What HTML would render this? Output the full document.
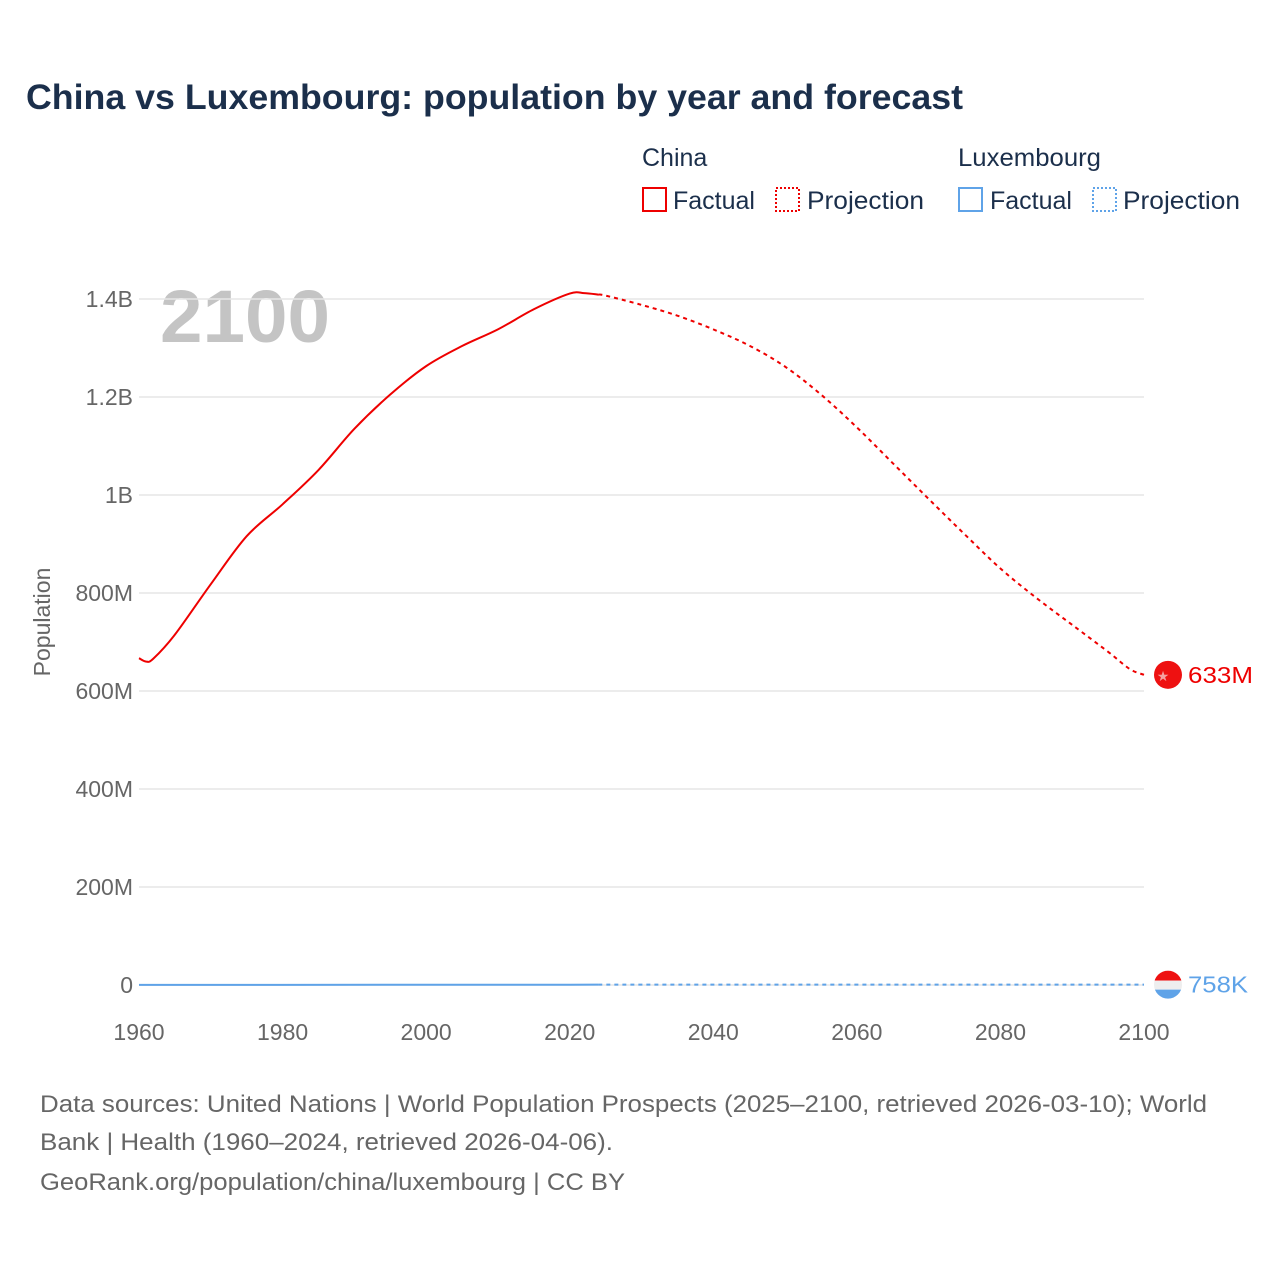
<!DOCTYPE html>
<html><head><meta charset="utf-8"><style>
body{margin:0;background:#fff;font-family:"Liberation Sans",sans-serif}
svg text{font-family:"Liberation Sans",sans-serif}
</style></head><body>
<svg id="chart" width="1280" height="1280" viewBox="0 0 1280 1280">
<text x="26" y="109" font-size="35" font-weight="bold" fill="#1b2f4b" textLength="937" lengthAdjust="spacingAndGlyphs">China vs Luxembourg: population by year and forecast</text>
<g font-size="25" fill="#1b2f4b">
<text x="642" y="166">China</text>
<rect x="643" y="188" width="23" height="23" fill="none" stroke="#ee0000" stroke-width="2"/>
<text x="673" y="209">Factual</text>
<rect x="776" y="188" width="23" height="23" fill="none" stroke="#ee0000" stroke-width="2" stroke-dasharray="2,2"/>
<text x="807" y="209" textLength="117" lengthAdjust="spacingAndGlyphs">Projection</text>
<text x="958" y="166" textLength="143" lengthAdjust="spacingAndGlyphs">Luxembourg</text>
<rect x="959" y="188" width="23" height="23" fill="none" stroke="#5fa3e8" stroke-width="2"/>
<text x="990" y="209">Factual</text>
<rect x="1093" y="188" width="23" height="23" fill="none" stroke="#5fa3e8" stroke-width="2" stroke-dasharray="2,2"/>
<text x="1123" y="209" textLength="117" lengthAdjust="spacingAndGlyphs">Projection</text>
</g>
<text x="160" y="342" font-size="74" font-weight="bold" fill="#c4c4c4" textLength="170" lengthAdjust="spacingAndGlyphs">2100</text>
<g id="grid"></g><g id="series"></g>
<text transform="translate(50,622) rotate(-90)" text-anchor="middle" font-size="23" fill="#666">Population</text>
<g font-size="24" fill="#666">
<text x="40" y="1112" textLength="1167" lengthAdjust="spacingAndGlyphs">Data sources: United Nations | World Population Prospects (2025–2100, retrieved 2026-03-10); World</text>
<text x="40" y="1150" textLength="573" lengthAdjust="spacingAndGlyphs">Bank | Health (1960–2024, retrieved 2026-04-06).</text>
<text x="40" y="1190" textLength="585" lengthAdjust="spacingAndGlyphs">GeoRank.org/population/china/luxembourg | CC BY</text>
</g>
</svg>
<script>
const yTicks=[0,200e6,400e6,600e6,800e6,1000e6,1200e6,1400e6];
const yTickLabels=["0","200M","400M","600M","800M","1B","1.2B","1.4B"];
const xTicks=[1960,1980,2000,2020,2040,2060,2080,2100];
const chinaYears=[1960,1961,1962,1965,1970,1975,1980,1985,1990,1995,2000,2005,2010,2015,2020,2022,2024];
const chinaValues=[667e6,660e6,666e6,715e6,818e6,916e6,981e6,1051e6,1135e6,1205e6,1263e6,1304e6,1338e6,1379e6,1411e6,1412e6,1409e6];
const chinaProjYears=[2024,2025,2030,2035,2040,2045,2050,2055,2060,2065,2070,2075,2080,2085,2090,2095,2098,2100];
const chinaProjValues=[1409e6,1407e6,1388e6,1366e6,1338e6,1305e6,1262e6,1205e6,1138e6,1065e6,992e6,920e6,850e6,790e6,735e6,680e6,645e6,633e6];
const luxYears=[1960,1980,2000,2020,2024];
const luxValues=[0.31e6,0.36e6,0.44e6,0.63e6,0.67e6];
const luxProjYears=[2024,2050,2080,2100];
const luxProjValues=[0.67e6,0.78e6,0.78e6,0.758e6];
const NS="http://www.w3.org/2000/svg";
const x=y=>139+(y-1960)*(1144-139)/140;
const yS=v=>985-v*(686/1.4e9);
const grid=document.getElementById('grid'),ser=document.getElementById('series');
function mk(tag,a,p){const e=document.createElementNS(NS,tag);for(const k in a)e.setAttribute(k,a[k]);p.appendChild(e);return e;}
yTicks.forEach((t,i)=>{
 const l=mk('line',{x1:139,x2:1144,y1:yS(t),y2:yS(t),stroke:'#e6e6e6','stroke-width':1.5},grid);
 
 
 const tx=mk('text',{x:133,y:yS(t)+8,'text-anchor':'end','font-size':23,fill:'#666'},grid);
 tx.textContent=yTickLabels[i];
 
 
});
xTicks.forEach(t=>{
 const tx=mk('text',{x:x(t),y:1040,'text-anchor':'middle','font-size':23,fill:'#666'},grid);
 tx.textContent=t;
 
 
});
function line(ys,vs,col,dash,name){
 let d='';
 for(let i=0;i<ys.length;i++){const px=x(ys[i]),py=yS(vs[i]);
  if(i==0)d='M'+px+','+py;else{const p0=[x(ys[Math.max(i-2,0)]),yS(vs[Math.max(i-2,0)])],p1=[x(ys[i-1]),yS(vs[i-1])],p2=[px,py],p3=[x(ys[Math.min(i+1,ys.length-1)]),yS(vs[Math.min(i+1,ys.length-1)])];
  d+=` C${p1[0]+(p2[0]-p0[0])/6},${p1[1]+(p2[1]-p0[1])/6} ${p2[0]-(p3[0]-p1[0])/6},${p2[1]-(p3[1]-p1[1])/6} ${p2[0]},${p2[1]}`;}}
 const p=mk('path',{d:d,fill:'none',stroke:col,'stroke-width':2,'stroke-dasharray':dash||'none'},ser);
 
 
}
line(chinaYears,chinaValues,'#ee0000','','china-factual-line');
line(chinaProjYears,chinaProjValues,'#ee0000','4,4','china-projection-line');
line(luxYears,luxValues,'#5fa3e8','','luxembourg-factual-line');
line(luxProjYears,luxProjValues,'#5fa3e8','4,4','luxembourg-projection-line');
const cy=yS(chinaProjValues[chinaProjValues.length-1]);
const cf=mk('circle',{cx:1168,cy:cy,r:14,fill:'#ee1111'},ser);


const st=mk('text',{x:1163,y:cy+6,'font-size':14,fill:'#f5a0a0','text-anchor':'middle'},ser);st.textContent='★';
const cl=mk('text',{x:1188,y:cy+8,'font-size':23,fill:'#ee0000',textLength:65,lengthAdjust:'spacingAndGlyphs'},ser);cl.textContent='633M';


const ly=yS(luxProjValues[luxProjValues.length-1]);
const defs=mk('defs',{},ser);const cp=mk('clipPath',{id:'lc'},defs);mk('circle',{cx:1168,cy:ly,r:14},cp);
const lg=mk('g',{'clip-path':'url(#lc)'},ser);


mk('rect',{x:1154,y:ly-14,width:28,height:10,fill:'#ee1111'},lg);
mk('rect',{x:1154,y:ly-4,width:28,height:9,fill:'#eeeeee'},lg);
mk('rect',{x:1154,y:ly+5,width:28,height:10,fill:'#5fa3e8'},lg);
const ll=mk('text',{x:1188,y:ly+8,'font-size':23,fill:'#5fa3e8',textLength:60,lengthAdjust:'spacingAndGlyphs'},ser);ll.textContent='758K';


</script>
</body></html>
